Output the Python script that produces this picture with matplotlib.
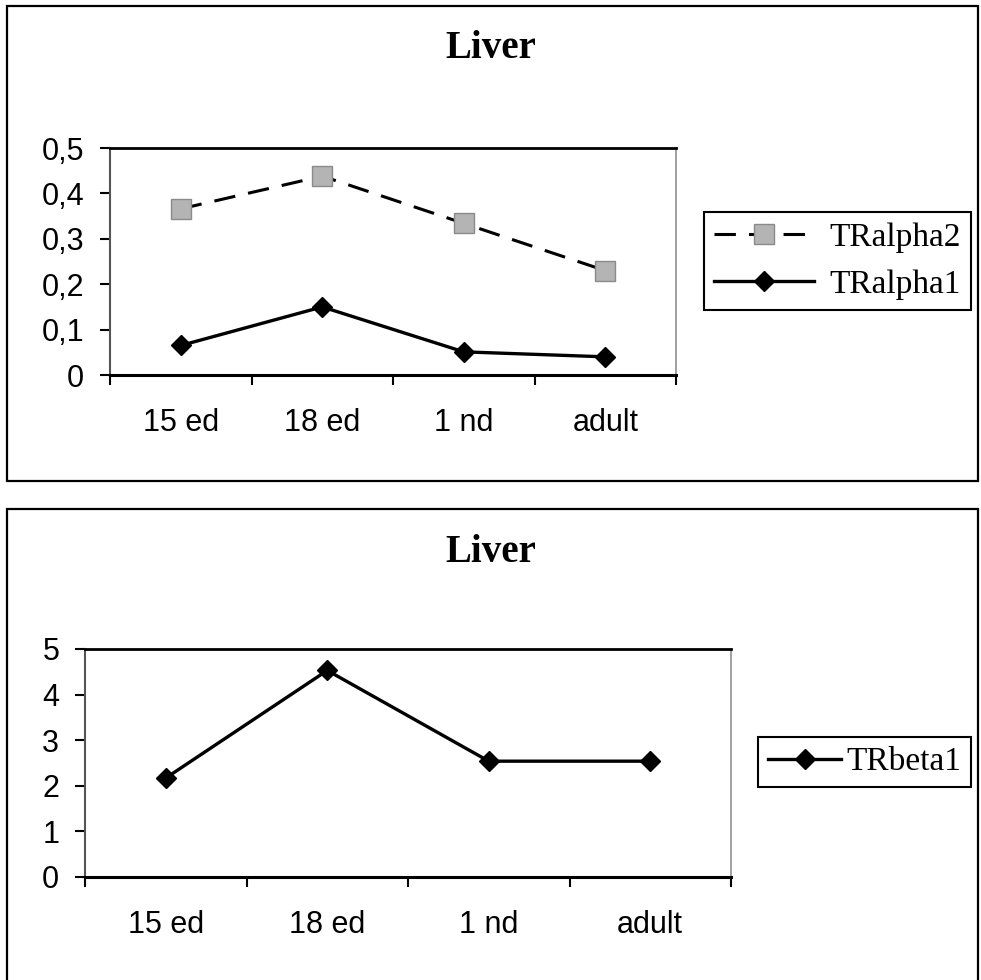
import numpy as np
import matplotlib
matplotlib.use('Agg')
import matplotlib.pyplot as plt
from matplotlib.patches import Rectangle

# data
stages = ['15 ed', '18 ed', '1 nd', 'adult']
tralpha2 = [0.366, 0.438, 0.334, 0.230]
tralpha1 = [0.065, 0.150, 0.051, 0.040]
trbeta1 = [2.17, 4.53, 2.54, 2.54]

alpha_yticks = [0, 0.1, 0.2, 0.3, 0.4, 0.5]
alpha_yticklabels = ['0', '0,1', '0,2', '0,3', '0,4', '0,5']
beta_yticks = [0, 1, 2, 3, 4, 5]
beta_yticklabels = ['0', '1', '2', '3', '4', '5']

W, H = 981, 980
sans = 'Liberation Sans'
serif = 'Liberation Serif'


def px(x0, y0, x1, y1):
    # pixel box (top-left origin) -> figure fraction rect
    return [x0 / W, 1 - y1 / H, (x1 - x0) / W, (y1 - y0) / H]


def style_axes(ax, yticks, yticklabels, ymax):
    x = np.arange(len(stages))
    ax.set_xlim(-0.5, len(stages) - 0.5)
    ax.set_ylim(0, ymax)
    ax.set_xticks(x)
    ax.set_xticklabels(stages, fontsize=22, family=sans)
    ax.set_xticks(np.arange(len(stages) + 1) - 0.5, minor=True)
    ax.tick_params(axis='x', which='major', length=0, pad=24)
    ax.tick_params(axis='x', which='minor', length=7.5, width=1.5,
                   direction='out', color='black')
    ax.set_yticks(yticks)
    ax.set_yticklabels(yticklabels, fontsize=22, family=sans)
    ax.tick_params(axis='y', length=7.5, width=1.5, direction='out', pad=11)
    ax.spines['bottom'].set_linewidth(2.2)
    ax.spines['top'].set_linewidth(2.0)
    ax.spines['left'].set_color('#555555')
    ax.spines['left'].set_linewidth(1.5)
    ax.spines['right'].set_color('#999999')
    ax.spines['right'].set_linewidth(1.3)


fig = plt.figure(figsize=(W / 100, H / 100), dpi=100)

# outer chart frames
fig.patches.append(Rectangle((7 / W, 1 - 481 / H), 971 / W, 475 / H,
                             transform=fig.transFigure, fill=False,
                             edgecolor='black', linewidth=1.6))
fig.patches.append(Rectangle((7 / W, -0.05), 971 / W, 1 - 509 / H + 0.05,
                             transform=fig.transFigure, fill=False,
                             edgecolor='black', linewidth=1.6))

# top chart: TR alpha
ax1 = fig.add_axes(px(110, 148, 676, 375))
x = np.arange(len(stages))
ax1.plot(x, tralpha2, color='black', linewidth=2.2, linestyle=(0, (7, 4.3)),
         marker='s', markersize=14, markerfacecolor='#b4b4b4',
         markeredgecolor='#8a8a8a', markeredgewidth=1.0, label='TRalpha2')
ax1.plot(x, tralpha1, color='black', linewidth=2.4, linestyle='-',
         marker='D', markersize=10.5, markerfacecolor='black',
         markeredgecolor='black', label='TRalpha1')
style_axes(ax1, alpha_yticks, alpha_yticklabels, 0.5)
leg1 = ax1.legend(loc='center left', bbox_to_anchor=(704 / W, 1 - 261 / H),
                  bbox_transform=fig.transFigure, frameon=True, fancybox=False,
                  edgecolor='black', framealpha=1, prop={'family': serif, 'size': 24},
                  handlelength=3.0, handletextpad=0.45, borderpad=0.3,
                  labelspacing=0.5, borderaxespad=0)
leg1.get_frame().set_linewidth(1.5)
fig.text(491 / W, 1 - 48 / H, 'Liver', ha='center', va='center',
         fontsize=28, fontweight='bold', family=serif)

# bottom chart: TR beta
ax2 = fig.add_axes(px(85, 649, 731, 877))
ax2.plot(x, trbeta1, color='black', linewidth=2.4, linestyle='-',
         marker='D', markersize=10.5, markerfacecolor='black',
         markeredgecolor='black', label='TRbeta1')
style_axes(ax2, beta_yticks, beta_yticklabels, 5)
leg2 = ax2.legend(loc='center left', bbox_to_anchor=(758 / W, 1 - 762 / H),
                  bbox_transform=fig.transFigure, frameon=True, fancybox=False,
                  edgecolor='black', framealpha=1, prop={'family': serif, 'size': 24},
                  handlelength=2.2, handletextpad=0.15, borderpad=0.3,
                  borderaxespad=0)
leg2.get_frame().set_linewidth(1.5)
fig.text(491 / W, 1 - 553 / H, 'Liver', ha='center', va='center',
         fontsize=28, fontweight='bold', family=serif)

fig.savefig('out.png', dpi=100)
